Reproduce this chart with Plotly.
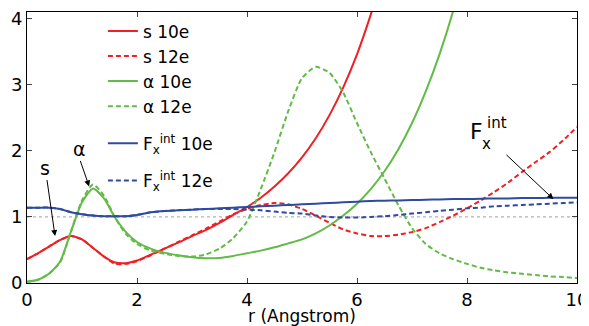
import plotly.graph_objects as go

# ---------------- data ----------------
r = [0, 0.2, 0.4, 0.6, 0.8, 1.0, 1.2, 1.4, 1.6, 1.8, 2.0,
     2.25, 2.5, 2.75, 3.0, 3.25, 3.5, 3.75, 4.0, 4.25, 4.5, 4.75,
     5.0, 5.25, 5.5, 5.75, 6.0, 6.25, 6.5, 6.75, 7.0, 7.25, 7.5, 7.75,
     8.0, 8.25, 8.5, 8.75, 9.0, 9.25, 9.5, 9.75, 10.0]

s_10e = [0.36, 0.45, 0.55, 0.65, 0.71, 0.66, 0.53, 0.40, 0.31, 0.30, 0.34,
         0.43, 0.52, 0.61, 0.71, 0.80, 0.91, 1.03, 1.15, 1.29, 1.46, 1.66,
         1.90, 2.19, 2.54, 2.96, 3.46, 4.06, 4.75, None, None, None, None, None,
         None, None, None, None, None, None, None, None, None]

s_12e = [0.36, 0.45, 0.55, 0.65, 0.71, 0.66, 0.53, 0.40, 0.29, 0.29, 0.33,
         0.42, 0.52, 0.62, 0.72, 0.82, 0.93, 1.04, 1.12, 1.18, 1.21, 1.19,
         1.12, 1.02, 0.91, 0.81, 0.75, 0.71, 0.71, 0.73, 0.77, 0.83, 0.92, 1.02,
         1.13, 1.25, 1.38, 1.52, 1.68, 1.83, 1.98, 2.16, 2.36]

alpha_10e = [0.02, 0.05, 0.14, 0.32, 0.78, 1.22, 1.43, 1.28, 0.99, 0.77, 0.62,
             0.52, 0.46, 0.42, 0.39, 0.375, 0.38, 0.41, 0.45, 0.49, 0.54, 0.60,
             0.66, 0.75, 0.87, 1.02, 1.20, 1.42, 1.69, 2.02, 2.42, 2.90, 3.46, 4.12,
             4.90, None, None, None, None, None, None, None, None]

alpha_12e = [0.02, 0.05, 0.14, 0.31, 0.78, 1.25, 1.49, 1.32, 0.99, 0.74, 0.59,
             0.49, 0.44, 0.41, 0.40, 0.43, 0.52, 0.68, 0.93, 1.42, 1.98, 2.60,
             3.10, 3.27, 3.18, 2.88, 2.42, 1.98, 1.58, 1.18, 0.83, 0.59, 0.45, 0.36,
             0.29, 0.23, 0.19, 0.16, 0.14, 0.12, 0.10, 0.09, 0.075]

fx_10e = [1.14, 1.14, 1.14, 1.12, 1.07, 1.04, 1.02, 1.01, 1.01, 1.01, 1.03,
          1.07, 1.09, 1.10, 1.11, 1.12, 1.13, 1.14, 1.15, 1.16, 1.17, 1.18,
          1.19, 1.20, 1.21, 1.22, 1.23, 1.24, 1.245, 1.25, 1.255, 1.26, 1.265, 1.27,
          1.27, 1.275, 1.28, 1.28, 1.285, 1.285, 1.29, 1.29, 1.29]

fx_12e = [1.14, 1.14, 1.14, 1.12, 1.07, 1.04, 1.02, 1.01, 1.01, 1.01, 1.03,
          1.07, 1.09, 1.10, 1.11, 1.12, 1.12, 1.12, 1.11, 1.10, 1.08, 1.06,
          1.05, 1.02, 1.00, 0.99, 0.99, 1.00, 1.01, 1.03, 1.05, 1.07, 1.09, 1.11,
          1.13, 1.14, 1.16, 1.17, 1.18, 1.19, 1.20, 1.21, 1.22]

ref_x = [0, 10]
ref_y = [1, 1]

x_ticks = [0, 2, 4, 6, 8, 10]
y_ticks = [0, 1, 2, 3, 4]

# ---------------- styling ----------------
RED = "#ee2024"
GREEN = "#62bb46"
BLUE = "#2e4b9f"
FONT = "DejaVu Sans"
DASH = "5px,3px"

fig = go.Figure()

fig.add_trace(go.Scatter(x=ref_x, y=ref_y, mode="lines", showlegend=False,
                         line=dict(color="#888888", width=0.8, dash="dot"),
                         hoverinfo="skip"))

series = [
    ("s 10e", s_10e, RED, "solid", "a"),
    ("s 12e", s_12e, RED, DASH, "a"),
    ("α 10e", alpha_10e, GREEN, "solid", "a"),
    ("α 12e", alpha_12e, GREEN, DASH, "a"),
    ("F<sub>x</sub><sup>int</sup> 10e", fx_10e, BLUE, "solid", "b"),
    ("F<sub>x</sub><sup>int</sup> 12e", fx_12e, BLUE, DASH, "c"),
]
for name, ys, col, dash, grp in series:
    fig.add_trace(go.Scatter(
        x=r, y=ys, mode="lines", name=name, legendgroup=grp,
        line=dict(color=col, width=2, dash=dash, shape="spline", smoothing=0.6),
        connectgaps=False))

# annotations (labels with arrows)
ann = []
def label(x, y, text, size):
    ann.append(dict(x=x, y=y, xref="x", yref="y", text=text, showarrow=False,
                    font=dict(family=FONT, size=size, color="black")))
def arrow(x0, y0, x1, y1):
    ann.append(dict(x=x1, y=y1, ax=x0, ay=y0, xref="x", yref="y", axref="x", ayref="y",
                    text="", showarrow=True, arrowhead=2, arrowsize=1.2, arrowwidth=1,
                    arrowcolor="black"))

label(0.33, 1.74, "s", 19)
arrow(0.36, 1.58, 0.51, 0.71)
label(0.95, 2.02, "α", 19)
arrow(0.96, 1.87, 1.13, 1.46)
label(8.18, 2.29, "F", 22)
label(8.54, 2.42, "int", 15)
label(8.36, 2.10, "x", 15)
arrow(8.69, 1.96, 9.57, 1.27)

# the page body adds an 8px offset, so the figure is sized to fill the 589x326 window
fig.update_layout(
    width=581, height=318,
    margin=dict(l=19, r=12, t=4, b=43),
    paper_bgcolor="white", plot_bgcolor="white",
    font=dict(family=FONT, size=17, color="black"),
    showlegend=True,
    legend=dict(x=0.138, y=0.995, xanchor="left", yanchor="top",
                bgcolor="rgba(0,0,0,0)", borderwidth=0, maxheight=400,
                font=dict(family=FONT, size=17), tracegroupgap=12,
                traceorder="grouped"),
    annotations=ann,
    xaxis=dict(range=[0, 10], tickvals=x_ticks, ticks="inside", ticklen=5,
               showline=True, linecolor="black", linewidth=1, mirror="ticks",
               showgrid=False, zeroline=False, tickfont=dict(size=18),
               automargin=False, ticklabeloverflow="allow",
               title=dict(text="r (Angstrom)", font=dict(size=17), standoff=0)),
    yaxis=dict(range=[0, 4.1], tickvals=y_ticks, ticks="inside", ticklen=5,
               showline=True, linecolor="black", linewidth=1, mirror="ticks",
               showgrid=False, zeroline=False, tickfont=dict(size=18),
               automargin=False, ticklabeloverflow="allow"),
)

fig.write_html("out.html")
